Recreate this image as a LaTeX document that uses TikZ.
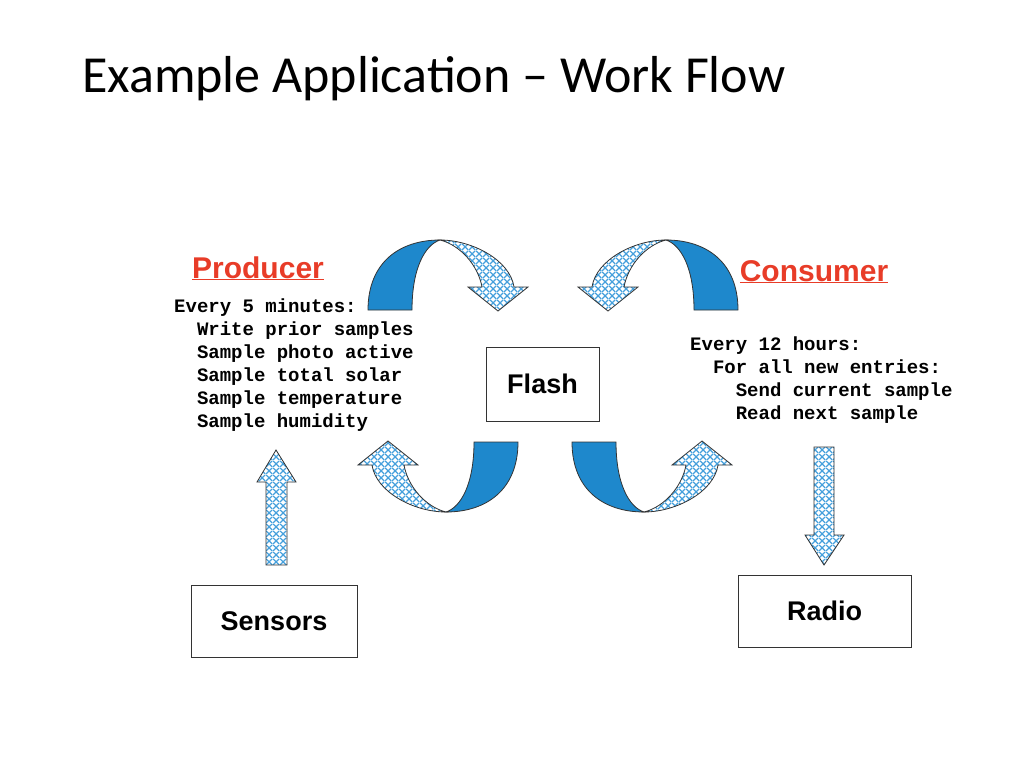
\documentclass[tikz,border=0pt]{standalone}
\usepackage{fontspec}
\setmainfont{Liberation Sans}
\newfontfamily\titlefont{Carlito}
\newfontfamily\codefont{Liberation Mono}
\usetikzlibrary{patterns}
\definecolor{dblue}{RGB}{30,136,204}
\definecolor{hblue}{RGB}{70,160,220}
\definecolor{pred}{RGB}{232,60,40}
\pgfdeclarepatternformonly{bighatch}{\pgfpointorigin}{\pgfqpoint{7pt}{7pt}}{\pgfqpoint{7pt}{7pt}}{%
 \pgfsetlinewidth{1.3pt}
 \pgfpathmoveto{\pgfqpoint{0pt}{0pt}}\pgfpathlineto{\pgfqpoint{7.1pt}{7.1pt}}
 \pgfpathmoveto{\pgfqpoint{0pt}{7pt}}\pgfpathlineto{\pgfqpoint{7.1pt}{-0.1pt}}
 \pgfusepath{stroke}}
\tikzset{
 dark/.style={draw=black!80,line width=0.8pt,fill=dblue},
 hatch/.style={draw=black!80,line width=0.8pt,pattern=bighatch,pattern color=hblue},
 box/.style={draw=black!80,line width=0.8pt,fill=white},
 code/.style={anchor=north west,align=left,font=\codefont\bfseries\fontsize{19}{23}\selectfont,inner sep=0pt},
 head/.style={font=\bfseries\fontsize{30}{32}\selectfont,text=pred,anchor=base},
 btxt/.style={font=\bfseries\fontsize{27}{30}\selectfont}
}
\newcommand{\curvearrow}{%
 \path[dark] (368,310) -- (412,310) .. controls (412,268) and (425,245) .. (440,240) .. controls (400,240) and (368,262) .. (368,310) -- cycle;
 \path[hatch] (440,240) .. controls (472,240) and (510,260) .. (514,287) -- (528,287) -- (498,311) -- (468,287) -- (482,287) .. controls (478,265) and (460,245) .. (440,240) -- cycle;
}
\begin{document}
\begin{tikzpicture}[x=1pt,y=-1pt]
\useasboundingbox (0,0) rectangle (1024,768);
\node[anchor=base west,inner sep=0pt,font=\titlefont\fontsize{52}{56}\selectfont] (title) at (82,92) {Example Application – Work Flow};
\curvearrow
\begin{scope}[shift={(1106,0)},xscale=-1]\curvearrow\end{scope}
\begin{scope}[shift={(886,752)},xscale=-1,yscale=-1]\curvearrow\end{scope}
\begin{scope}[shift={(204,752)},yscale=-1]\curvearrow\end{scope}
\node[head] (prod) at (258,278) {\underline{Producer}};
\node[head] (cons) at (814,281) {\underline{Consumer}};
\node[code] (ptxt) at (174,299) {Every 5 minutes:\\\ \ Write prior samples\\\ \ Sample photo active\\\ \ Sample total solar\\\ \ Sample temperature\\\ \ Sample humidity};
\node[code] (ctxt) at (690,337) {Every 12 hours:\\\ \ For all new entries:\\\ \ \ \ Send current sample\\\ \ \ \ Read next sample};
\node[box,btxt,minimum width=113pt,minimum height=74pt] (flash) at (542.5,384) {Flash};
\node[box,btxt,minimum width=166pt,minimum height=72pt] (sensors) at (274,621) {Sensors};
\node[box,btxt,minimum width=173pt,minimum height=72pt] (radio) at (824.5,611) {Radio};
\path[hatch] (266,565) -- (266,482) -- (257,482) -- (276,450) -- (296,482) -- (287,482) -- (287,565) -- cycle;
\path[hatch] (814,447) -- (834,447) -- (834,535) -- (844,535) -- (824,565) -- (805,535) -- (814,535) -- cycle;
\end{tikzpicture}
\end{document}
